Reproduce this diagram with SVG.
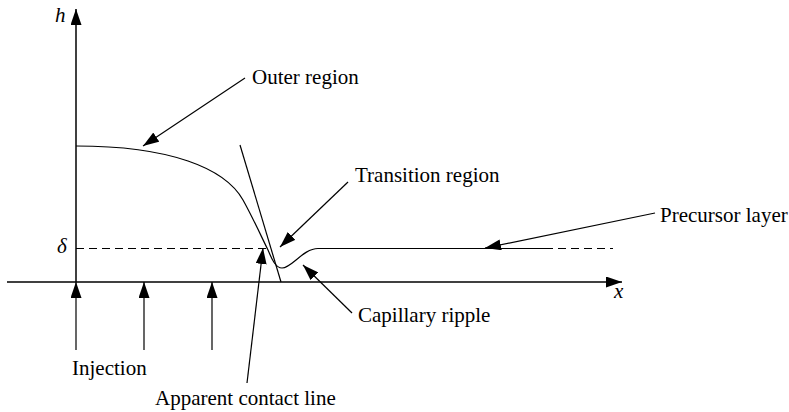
<svg xmlns="http://www.w3.org/2000/svg" width="789" height="412" viewBox="0 0 789 412">
<style>
.ln{fill:none;stroke:#000;stroke-width:1.2}
.dash{fill:none;stroke:#000;stroke-width:1.2;stroke-dasharray:8 5}
.arr{fill:none;stroke:#000;stroke-width:1.2;marker-end:url(#ah)}
.t{font-family:"Liberation Serif","Times New Roman",serif;font-size:21px;fill:#000}
.it{font-style:italic}
</style>
<defs>
<marker id="ah" markerUnits="userSpaceOnUse" markerWidth="16" markerHeight="11" refX="16" refY="5.5" orient="auto">
<path d="M0,0 L16,5.5 L0,11 z" fill="#000"/>
</marker>
</defs>
<rect width="789" height="412" fill="#fff"/>
<g id="axes">
<line class="arr" x1="76" y1="282" x2="76" y2="9" style="stroke-width:1.5"/>
<line class="arr" x1="7" y1="282" x2="622" y2="282" style="stroke-width:1.5"/>
<text class="t it" x="55" y="22">h</text>
<text class="t it" x="57" y="253">δ</text>
<text class="t it" x="614" y="298">x</text>
</g>
<g id="profile">
<line class="dash" x1="76" y1="248.5" x2="266" y2="248.5"/>
<line class="dash" x1="545" y1="248.5" x2="613" y2="248.5"/>
<path class="ln" d="M76,146 C170,146 225,168 243,200 C253,218 262,238 268,250 C271,257 275,268 282,268 C292,268 303,248.5 318,248.5 L545,248.5"/>
<line class="ln" x1="240" y1="145" x2="281" y2="282"/>
</g>
<g id="connectors">
<line class="arr" x1="245" y1="78" x2="143" y2="146"/>
<line class="arr" x1="348" y1="182" x2="280" y2="247"/>
<line class="arr" x1="352" y1="313" x2="303" y2="265"/>
<line class="arr" x1="655" y1="213" x2="485" y2="248"/>
<line class="arr" x1="247" y1="383" x2="263" y2="248"/>
<line class="arr" x1="76" y1="350" x2="76" y2="282"/>
<line class="arr" x1="144" y1="350" x2="144" y2="282"/>
<line class="arr" x1="212" y1="350" x2="212" y2="282"/>
</g>
<g id="outer-region"><text class="t" x="252" y="84">Outer region</text></g>
<g id="transition-region"><text class="t" x="355" y="182">Transition region</text></g>
<g id="capillary-ripple"><text class="t" x="358" y="322">Capillary ripple</text></g>
<g id="precursor-layer"><text class="t" x="660" y="222">Precursor layer</text></g>
<g id="injection"><text class="t" x="72" y="375">Injection</text></g>
<g id="apparent-contact-line"><text class="t" x="155" y="405">Apparent contact line</text></g>
</svg>
